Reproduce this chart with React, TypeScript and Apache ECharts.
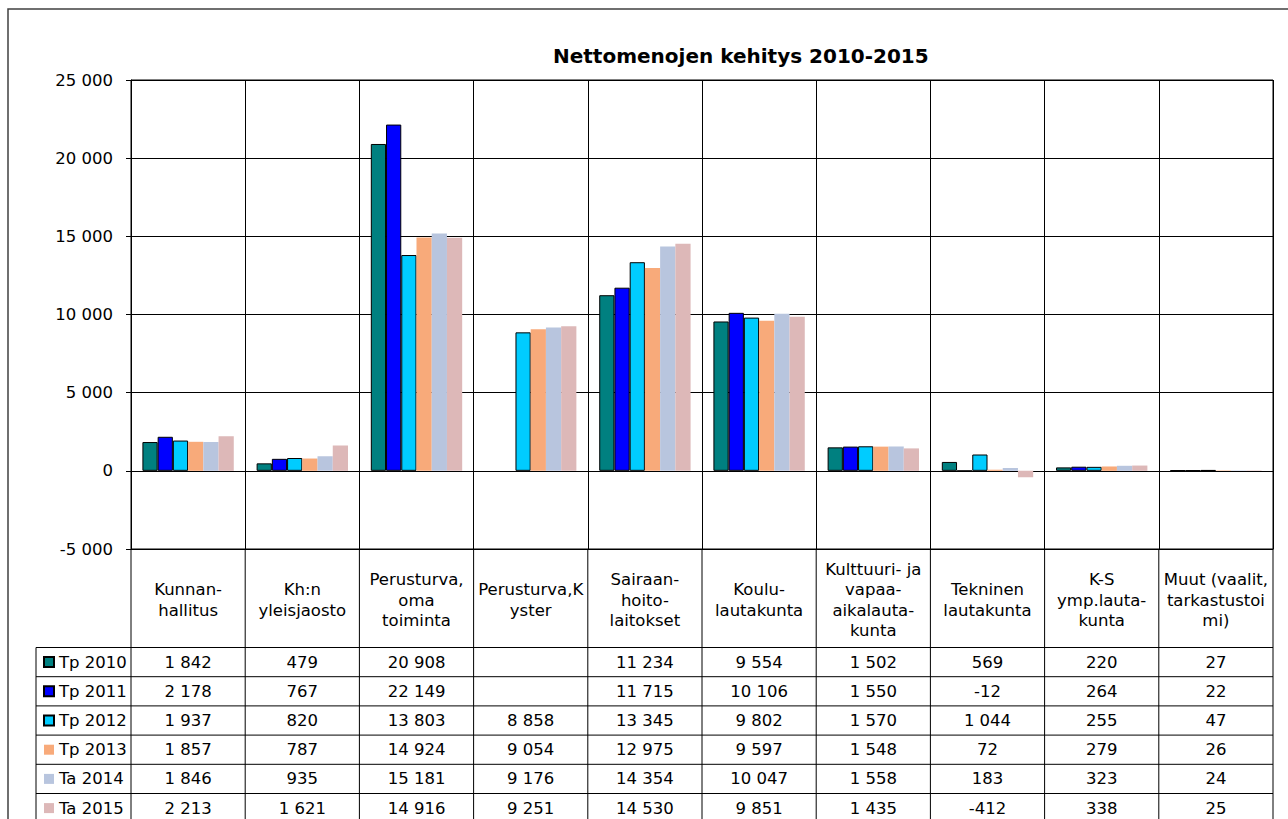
import React, { useEffect, useRef } from "react";
import * as echarts from "echarts";

const categories = [
  "Kunnan-\nhallitus",
  "Kh:n\nyleisjaosto",
  "Perusturva,\noma\ntoiminta",
  "Perusturva,K\nyster",
  "Sairaan-\nhoito-\nlaitokset",
  "Koulu-\nlautakunta",
  "Kulttuuri- ja\nvapaa-\naikalauta-\nkunta",
  "Tekninen\nlautakunta",
  "K-S\nymp.lauta-\nkunta",
  "Muut (vaalit,\ntarkastustoi\nmi)",
];

const seriesNames = ["Tp 2010", "Tp 2011", "Tp 2012", "Tp 2013", "Ta 2014", "Ta 2015"];

const tp2010 = [1842, 479, 20908, null, 11234, 9554, 1502, 569, 220, 27];
const tp2011 = [2178, 767, 22149, null, 11715, 10106, 1550, -12, 264, 22];
const tp2012 = [1937, 820, 13803, 8858, 13345, 9802, 1570, 1044, 255, 47];
const tp2013 = [1857, 787, 14924, 9054, 12975, 9597, 1548, 72, 279, 26];
const ta2014 = [1846, 935, 15181, 9176, 14354, 10047, 1558, 183, 323, 24];
const ta2015 = [2213, 1621, 14916, 9251, 14530, 9851, 1435, -412, 338, 25];

const seriesValues = [tp2010, tp2011, tp2012, tp2013, ta2014, ta2015];
const seriesColors = ["#008080", "#0000FF", "#00CCFF", "#F8AA7A", "#B8C5DE", "#DDB8B8"];
const seriesBordered = [true, true, true, false, false, false];

const yMin = -5000;
const yMax = 25000;
const yInterval = 5000;

const title = "Nettomenojen kehitys 2010-2015";

const FONT = "'DejaVu Sans', Verdana, sans-serif";
const FS = 16.5;

const GRID_L = 131;
const GRID_T = 80;
const GRID_W = 1142;
const GRID_H = 469;
const TABLE_TOP = 647.5;
const ROW_H = 29.2;
const LEGEND_X = 36;

function fmt(v: number | null): string {
  if (v === null || v === undefined) return "";
  const s = Math.abs(v)
    .toString()
    .replace(/\B(?=(\d{3})+(?!\d))/g, " ");
  return (v < 0 ? "-" : "") + s;
}

export default function App() {
  const ref = useRef<HTMLDivElement>(null);

  useEffect(() => {
    if (!ref.current) return;
    const chart = echarts.init(ref.current, null, { renderer: "svg" });
    const cellW = GRID_W / categories.length;
    const gridBottom = GRID_T + GRID_H;
    const lineStyle = { stroke: "#000", lineWidth: 1 };
    const graphics: any[] = [];

    // outer chart border
    graphics.push({
      type: "rect",
      shape: { x: 8, y: 9, width: 1300, height: 830 },
      style: { fill: "none", stroke: "#404040", lineWidth: 1.5 },
      silent: true,
    });

    // table vertical lines
    for (let k = 0; k <= categories.length; k++) {
      const x = GRID_L + k * cellW;
      graphics.push({
        type: "line",
        shape: { x1: x, y1: gridBottom, x2: x, y2: 830 },
        style: lineStyle,
        silent: true,
      });
    }
    graphics.push({
      type: "line",
      shape: { x1: LEGEND_X, y1: TABLE_TOP, x2: LEGEND_X, y2: 830 },
      style: lineStyle,
      silent: true,
    });
    for (let i = 0; i <= seriesNames.length; i++) {
      const y = TABLE_TOP + i * ROW_H;
      graphics.push({
        type: "line",
        shape: { x1: LEGEND_X, y1: y, x2: GRID_L + GRID_W, y2: y },
        style: lineStyle,
        silent: true,
      });
    }
    // table values
    seriesValues.forEach((vals, i) => {
      vals.forEach((v, j) => {
        graphics.push({
          type: "text",
          x: GRID_L + (j + 0.5) * cellW,
          y: TABLE_TOP + (i + 0.5) * ROW_H,
          style: {
            text: fmt(v),
            fill: "#000",
            font: `${FS}px ${FONT}`,
            align: "center",
            verticalAlign: "middle",
          },
          silent: true,
        });
      });
    });

    chart.setOption({
      animation: false,
      backgroundColor: "#fff",
      title: {
        text: title,
        left: 553,
        top: 46,
        padding: 0,
        textStyle: { fontFamily: FONT, fontSize: 20, fontWeight: "bold", color: "#000" },
      },
      legend: {
        orient: "vertical",
        left: 43,
        top: TABLE_TOP + ROW_H / 2 - 10,
        padding: 0,
        itemGap: ROW_H - 20,
        itemWidth: 10,
        itemHeight: 10,
        icon: "rect",
        data: seriesNames,
        textStyle: { fontFamily: FONT, fontSize: FS, color: "#000", lineHeight: 20 },
        selectedMode: false,
      },
      grid: {
        left: GRID_L,
        top: GRID_T,
        width: GRID_W,
        height: GRID_H,
        show: true,
        borderColor: "#000",
        borderWidth: 1,
        containLabel: false,
      },
      xAxis: {
        type: "category",
        data: categories,
        axisLine: { show: true, onZero: false, lineStyle: { color: "#000" } },
        axisTick: { show: false },
        splitLine: { show: true, interval: 0, lineStyle: { color: "#000", width: 1 } },
        axisLabel: {
          interval: 0,
          margin: 51,
          verticalAlign: "middle",
          align: "center",
          lineHeight: 20.5,
          fontFamily: FONT,
          fontSize: FS,
          color: "#000",
        },
      },
      yAxis: {
        type: "value",
        min: yMin,
        max: yMax,
        interval: yInterval,
        axisLine: { show: true, lineStyle: { color: "#000" } },
        axisTick: { show: true, length: 5, lineStyle: { color: "#000" } },
        splitLine: { show: true, lineStyle: { color: "#000", width: 1 } },
        axisLabel: {
          margin: 18,
          fontFamily: FONT,
          fontSize: FS,
          color: "#000",
          formatter: (v: number) => fmt(v),
        },
      },
      series: seriesNames.map((name, i) => ({
        name,
        type: "bar",
        data: seriesValues[i],
        barGap: "0%",
        barCategoryGap: "20%",
        itemStyle: {
          color: seriesColors[i],
          borderColor: seriesBordered[i] ? "#000" : seriesColors[i],
          borderWidth: seriesBordered[i] ? 1 : 0,
        },
      })),
      graphic: graphics,
    });

    return () => chart.dispose();
  }, []);

  return (
    <div
      ref={ref}
      style={{ position: "absolute", left: 0, top: 0, width: 1288, height: 819 }}
    />
  );
}
